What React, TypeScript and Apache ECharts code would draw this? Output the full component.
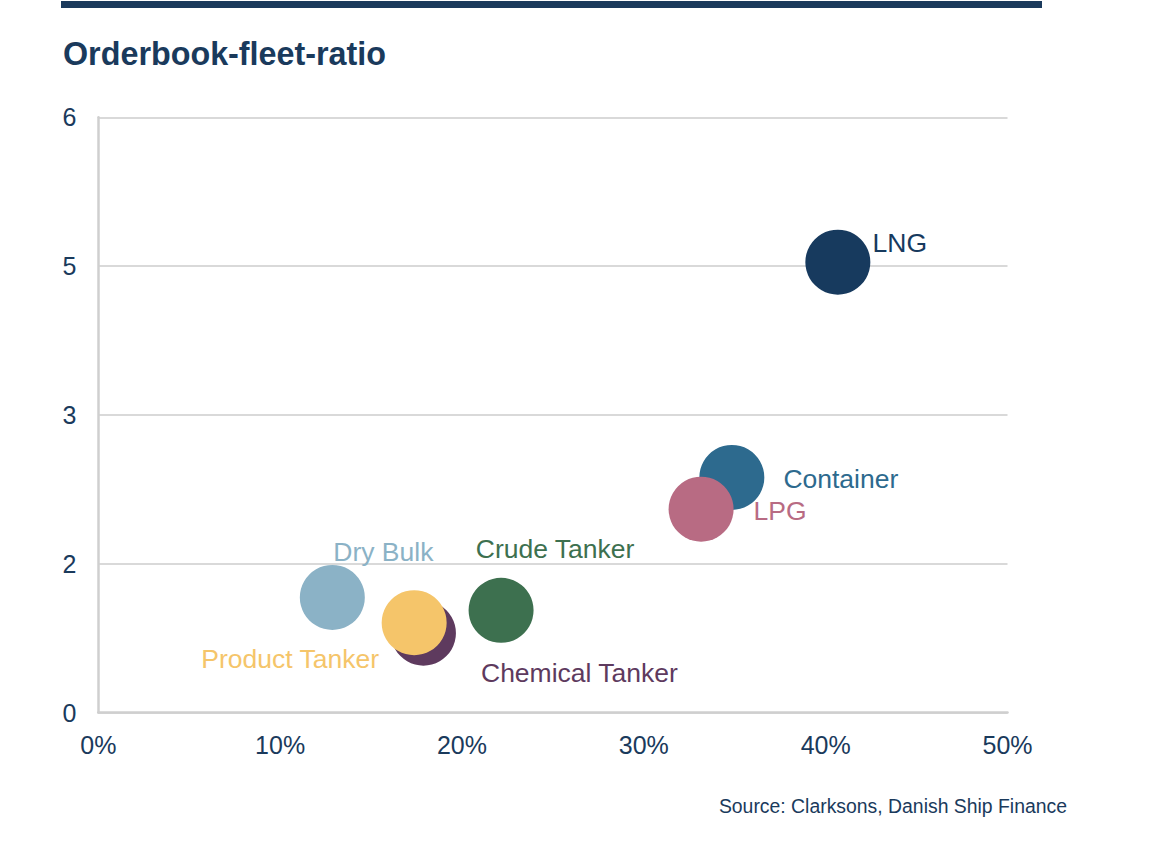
import React, { useEffect, useRef } from "react";
import * as echarts from "echarts";

const segments = ["LNG", "Container", "LPG", "Crude Tanker", "Chemical Tanker", "Product Tanker", "Dry Bulk"];
const orderbookPct = [40.67, 34.84, 33.15, 22.15, 17.88, 17.37, 12.87];
const yValues = [4.54, 2.37, 2.05, 1.03, 0.8, 0.905, 1.16];
const colors = ["#173a5e", "#2d6a8e", "#b86b83", "#3d704f", "#5e3a5e", "#f5c56a", "#8bb2c6"];
const labelOffsets: [number, number][] = [
  [62, -19],
  [109, 2],
  [79, 2],
  [54, -61],
  [156, 40],
  [-124, 36],
  [51, -45],
];
const xTicks = { min: 0, max: 50, interval: 10 };
const yTicks = { min: 0, max: 6, interval: 1.5 };

const FONT = "'Liberation Sans', Arial, Helvetica, sans-serif";
const NAVY = "#1a3a5c";

export default function App() {
  const ref = useRef<HTMLDivElement>(null);
  useEffect(() => {
    if (!ref.current) return;
    const chart = echarts.init(ref.current, undefined, { renderer: "svg" });
    const data = segments.map((name, i) => ({
      name,
      value: [orderbookPct[i], yValues[i]],
      itemStyle: { color: colors[i], opacity: 1 },
      label: {
        show: true,
        formatter: name,
        position: "inside",
        offset: labelOffsets[i],
        color: colors[i],
        fontSize: 26.5,
        fontFamily: FONT,
      },
    }));
    chart.setOption({
      animation: false,
      backgroundColor: "#ffffff",
      grid: { left: 98.3, right: 162.5, top: 117.3, bottom: 155.5, containLabel: false },
      xAxis: {
        type: "value",
        min: xTicks.min,
        max: xTicks.max,
        interval: xTicks.interval,
        axisLine: { show: true, lineStyle: { color: "#cfcfcf", width: 2.5 } },
        axisTick: { show: false },
        splitLine: { show: false },
        axisLabel: {
          formatter: "{value}%",
          color: NAVY,
          fontSize: 25,
          fontFamily: FONT,
          margin: 20,
        },
      },
      yAxis: {
        type: "value",
        min: yTicks.min,
        max: yTicks.max,
        interval: yTicks.interval,
        axisLine: { show: true, lineStyle: { color: "#cfcfcf", width: 2.5 } },
        axisTick: { show: false },
        splitLine: { show: true, lineStyle: { color: "#d9d9d9", width: 2 } },
        axisLabel: {
          formatter: (v: number) => String(Math.round(v)),
          color: NAVY,
          fontSize: 25,
          fontFamily: FONT,
          margin: 22,
        },
      },
      series: [
        {
          type: "scatter",
          symbol: "circle",
          symbolSize: 65,
          data,
          emphasis: { disabled: true },
        },
      ],
      graphic: [
        {
          type: "rect",
          shape: { x: 61, y: 1, width: 981, height: 7 },
          style: { fill: "#1b3a5c" },
        },
        {
          type: "text",
          x: 63,
          y: 54,
          style: {
            text: "Orderbook-fleet-ratio",
            fill: NAVY,
            font: `bold 32.3px ${FONT}`,
            textAlign: "left",
            textVerticalAlign: "middle",
          },
        },
        {
          type: "text",
          x: 1067,
          y: 806,
          style: {
            text: "Source: Clarksons, Danish Ship Finance",
            fill: NAVY,
            font: `19.4px ${FONT}`,
            textAlign: "right",
            textVerticalAlign: "middle",
          },
        },
      ],
    });
    return () => chart.dispose();
  }, []);
  return (
    <div
      ref={ref}
      style={{ position: "absolute", left: 0, top: 0, width: 1170, height: 868, background: "#fff" }}
    />
  );
}
